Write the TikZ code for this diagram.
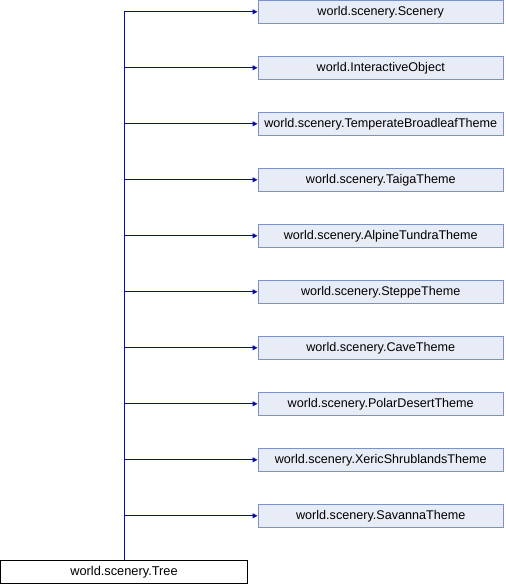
\documentclass[tikz,border=0pt]{standalone}
\usepackage{fontspec}
\setmainfont{Liberation Sans}
\usetikzlibrary{arrows.meta}
\definecolor{edgeblue}{HTML}{0C0C98}
\definecolor{boxborder}{HTML}{7A92C8}
\definecolor{boxfill}{HTML}{E8ECF6}
\tikzset{
  classbox/.style={draw=boxborder, fill=boxfill, line width=1pt, minimum width=245.5pt, minimum height=22.5pt, inner sep=0pt, font=\fontsize{12.6}{15}\selectfont},
  leafbox/.style={draw=black, fill=white, line width=1pt, minimum width=247pt, minimum height=23pt, inner sep=0pt, font=\fontsize{12.8}{15}\selectfont},
  inherit/.style={draw=edgeblue, line width=1pt, -{Triangle[length=5pt,width=5pt]}}
}
\begin{document}
\begin{tikzpicture}[x=1pt,y=-1pt]
\useasboundingbox (0,0) rectangle (506,584);
\node[leafbox] (tree) at (124,572) {world.scenery.Tree};
\node[classbox] (b0) at (380.75,11.8) {world.scenery.Scenery};
\node[classbox] (b1) at (380.75,67.8) {world.InteractiveObject};
\node[classbox] (b2) at (380.75,123.8) {world.scenery.TemperateBroadleafTheme};
\node[classbox] (b3) at (380.75,179.8) {world.scenery.TaigaTheme};
\node[classbox] (b4) at (380.75,235.8) {world.scenery.AlpineTundraTheme};
\node[classbox] (b5) at (380.75,291.8) {world.scenery.SteppeTheme};
\node[classbox] (b6) at (380.75,347.8) {world.scenery.CaveTheme};
\node[classbox] (b7) at (380.75,403.8) {world.scenery.PolarDesertTheme};
\node[classbox] (b8) at (380.75,459.8) {world.scenery.XericShrublandsTheme};
\node[classbox] (b9) at (380.75,515.8) {world.scenery.SavannaTheme};
\foreach \i in {0,...,9} {
  \draw[inherit] (tree.north) |- (b\i.west);
}
\end{tikzpicture}
\end{document}
